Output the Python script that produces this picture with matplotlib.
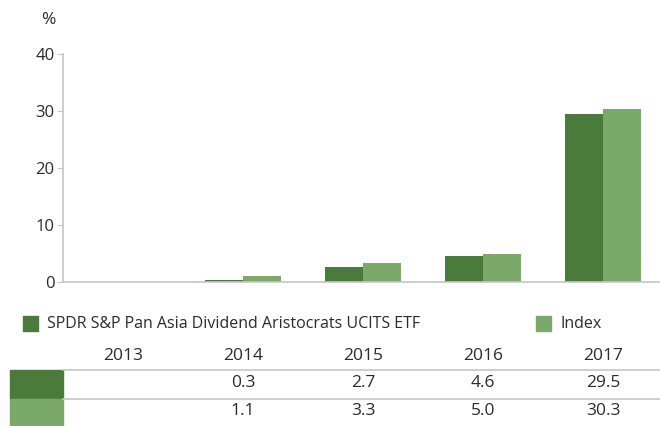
import matplotlib
matplotlib.use("Agg")
import matplotlib.pyplot as plt
import matplotlib.transforms as mtransforms
from matplotlib.lines import Line2D
from matplotlib.patches import Rectangle
import numpy as np

plt.rcParams['font.family'] = ['Open Sans', 'DejaVu Sans']

years = ['2013', '2014', '2015', '2016', '2017']
etf = [None, 0.3, 2.7, 4.6, 29.5]
index = [None, 1.1, 3.3, 5.0, 30.3]
etf_name = 'SPDR S&P Pan Asia Dividend Aristocrats UCITS ETF'
index_name = 'Index'

dark = '#4a7b3a'
light = '#7aa96a'
grey = '#c6c6c6'
txt = '#2b2b2b'

fig = plt.figure(figsize=(6.6, 4.26), dpi=100)
W, H = 660, 426
ax = fig.add_axes([63 / W, 144 / H, 600 / W, 228 / H])

x = np.arange(len(years))
w = 0.317
etf_vals = [np.nan if v is None else v for v in etf]
idx_vals = [np.nan if v is None else v for v in index]
ax.bar(x - w / 2, etf_vals, w, color=dark)
ax.bar(x + w / 2, idx_vals, w, color=light)

ax.set_xlim(-0.5, len(years) - 0.5)
ax.set_ylim(0, 40)
ax.set_yticks([0, 10, 20, 30, 40])
for s in ['top', 'right']:
    ax.spines[s].set_visible(False)
for s in ['left', 'bottom']:
    ax.spines[s].set_color(grey)
    ax.spines[s].set_linewidth(1.2)
ax.set_xticks([])
ax.tick_params(axis='y', length=4, color=grey, labelsize=12, labelcolor=txt, pad=2)
fig.text(48 / W, 1 - 20 / H, '%', fontsize=12.5, color=txt, ha='center', va='center')

# legend
fig.patches.append(Rectangle((23 / W, 1 - 331 / H), 15 / W, 15 / H, color=dark,
                             transform=fig.transFigure, figure=fig))
fig.text(47 / W, 1 - 324 / H, etf_name, fontsize=11.5, color=txt, va='center')
fig.patches.append(Rectangle((536 / W, 1 - 331 / H), 15 / W, 15 / H, color=light,
                             transform=fig.transFigure, figure=fig))
fig.text(560 / W, 1 - 324 / H, index_name, fontsize=11.5, color=txt, va='center')

# table below the chart
tr = mtransforms.blended_transform_factory(ax.transData, fig.transFigure)
for i, yr in enumerate(years):
    fig.text(x[i], 1 - 356 / H, yr, transform=tr, fontsize=12.5, color=txt, ha='center', va='center')
    if etf[i] is not None:
        fig.text(x[i], 1 - 383 / H, f'{etf[i]:.1f}', transform=tr, fontsize=12.5,
                 color=txt, ha='center', va='center')
    if index[i] is not None:
        fig.text(x[i], 1 - 411 / H, f'{index[i]:.1f}', transform=tr, fontsize=12.5,
                 color=txt, ha='center', va='center')

for yy in [370, 399]:
    fig.lines.append(Line2D([63 / W, 1], [1 - yy / H, 1 - yy / H], color=grey, lw=1.2,
                            transform=fig.transFigure))
fig.patches.append(Rectangle((10 / W, 1 - 399 / H), 53 / W, 29 / H, color=dark,
                             transform=fig.transFigure, figure=fig))
fig.patches.append(Rectangle((10 / W, 1 - 426 / H), 53 / W, 27 / H, color=light,
                             transform=fig.transFigure, figure=fig))

fig.savefig('out.png', dpi=100)
